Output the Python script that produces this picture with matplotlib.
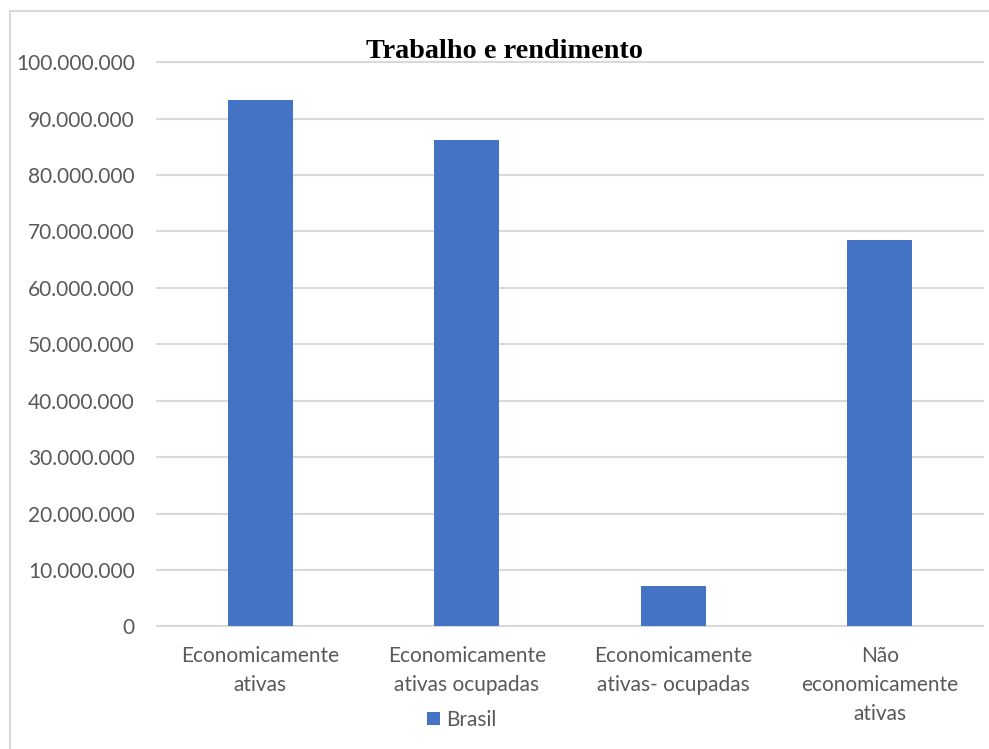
import matplotlib.pyplot as plt
from matplotlib.patches import Rectangle
from matplotlib.ticker import FuncFormatter

# Data
categorias = ["Economicamente\nativas",
              "Economicamente\nativas ocupadas",
              "Economicamente\nativas- ocupadas",
              "Não\neconomicamente\nativas"]
brasil = [93400000, 86300000, 7100000, 68500000]

W, H = 989, 749
fig = plt.figure(figsize=(W / 100, H / 100), dpi=100)
ax = fig.add_axes([157 / W, 1 - 626.3 / H, (983 - 157) / W, (626.3 - 62.3) / H])

cinza = "#595959"
ax.bar(range(len(categorias)), brasil, width=0.315, color="#4472C4",
       label="Brasil", zorder=3)

ax.set_xlim(-0.5, len(categorias) - 0.5)
ax.set_ylim(0, 100000000)
ax.set_yticks(range(0, 100000001, 10000000))
ax.yaxis.set_major_formatter(FuncFormatter(lambda v, p: "{:,.0f}".format(v).replace(",", ".")))
ax.grid(axis="y", color="#D9D9D9", linewidth=1.5, zorder=0)
for g in ax.yaxis.get_gridlines():
    g.set_clip_on(False)

for s in ax.spines.values():
    s.set_visible(False)

ax.set_xticks(range(len(categorias)))
ax.set_xticklabels(categorias, linespacing=1.58)
ax.tick_params(axis="both", length=0, labelsize=15, labelcolor=cinza)
ax.tick_params(axis="x", pad=14)
ax.tick_params(axis="y", pad=16)
for lbl in ax.get_xticklabels() + ax.get_yticklabels():
    lbl.set_fontfamily("Lato")

fig.text(505 / W, 1 - 51 / H, "Trabalho e rendimento", ha="center", va="center",
         fontsize=20.3, fontweight="bold", family="Liberation Serif")

fig.legend(loc="center", bbox_to_anchor=(462 / W, 1 - 720 / H), frameon=False,
           handlelength=0.6, handleheight=0.6, handletextpad=0.3,
           prop={"family": "Lato", "size": 15}, labelcolor=cinza)

# moldura do grafico
fig.patches.append(Rectangle((9.5 / W, -0.1), 1.1, 1 - 11.5 / H + 0.1,
                             transform=fig.transFigure, fill=False,
                             edgecolor="#D9D9D9", linewidth=1.5))

fig.savefig("out.png", dpi=100)
